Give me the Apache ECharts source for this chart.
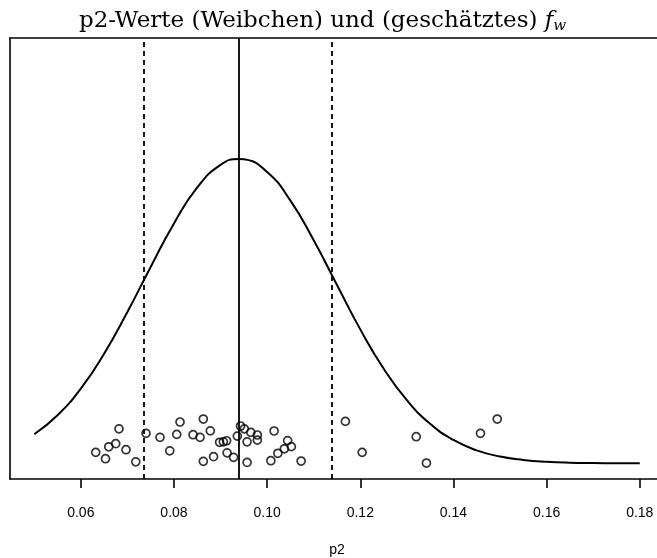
<!DOCTYPE html>
<html>
<head>
<meta charset="utf-8">
<script src="https://cdn.jsdelivr.net/npm/echarts@6/dist/echarts.min.js"></script>
<style>
  html, body { margin: 0; padding: 0; background: #ffffff; }
  #chart { width: 657px; height: 558px; }
</style>
</head>
<body>
<div id="chart"></div>
<script>
// p2 values of the females (x) and their jitter height (y)
var p2Values = [
  0.0632, 0.0653, 0.0660, 0.0675, 0.0682, 0.0697, 0.0718, 0.0740, 0.0770, 0.0791,
  0.0806, 0.0813, 0.0841, 0.0856, 0.0863, 0.0863, 0.0878, 0.0885, 0.0898, 0.0906,
  0.0913, 0.0914, 0.0928, 0.0936, 0.0943, 0.0951, 0.0957, 0.0957, 0.0965, 0.0979,
  0.0979, 0.1008, 0.1015, 0.1023, 0.1037, 0.1044, 0.1052, 0.1073, 0.1168, 0.1204,
  0.1320, 0.1342, 0.1458, 0.1494
];
var jitter = [
  0.71, 0.30, 1.07, 1.27, 2.23, 0.88, 0.10, 1.94, 1.68, 0.81,
  1.87, 2.67, 1.85, 1.68, 2.86, 0.13, 2.10, 0.43, 1.36, 1.39,
  1.46, 0.68, 0.39, 1.76, 2.41, 2.23, 1.39, 0.06, 2.00, 1.83,
  1.50, 0.17, 2.09, 0.65, 0.94, 1.47, 1.08, 0.15, 2.71, 0.71,
  1.72, 0.02, 1.94, 2.86
];

// estimated density f_w
var curveX = [0.050, 0.055, 0.060, 0.065, 0.070, 0.075, 0.080, 0.085, 0.090, 0.094,
  0.095, 0.100, 0.105, 0.110, 0.115, 0.120, 0.125, 0.130, 0.135, 0.140,
  0.145, 0.150, 0.155, 0.160, 0.165, 0.170, 0.175, 0.180];
var curveY = [1.88, 3.11, 4.83, 7.08, 9.77, 12.68, 15.49, 17.81, 19.27, 19.65,
  19.63, 18.81, 16.96, 14.40, 11.51, 8.65, 6.12, 4.08, 2.55, 1.51,
  0.84, 0.44, 0.22, 0.10, 0.04, 0.02, 0.01, 0.00];

var meanLine = 0.0940;
var dashLines = [0.0735, 0.1139];
var tickValues = [0.06, 0.08, 0.10, 0.12, 0.14, 0.16, 0.18];

var points = p2Values.map(function (v, i) { return [v, jitter[i]]; });
var curve = curveX.map(function (v, i) { return [v, curveY[i]]; });

var black = '#000';

var myChart = echarts.init(document.getElementById('chart'));
myChart.setOption({
  animation: false,
  backgroundColor: '#ffffff',
  title: {
    text: '{a|p2-Werte (Weibchen) und (geschätztes) }{f|f}{w|w}',
    left: 74,
    top: 3,
    textStyle: {
      rich: {
        a: { fontFamily: 'DejaVu Serif', fontWeight: 'normal', fontSize: 23, color: black },
        f: { fontFamily: 'DejaVu Serif', fontWeight: 'normal', fontStyle: 'italic', fontSize: 23, color: black },
        w: { fontFamily: 'DejaVu Serif', fontWeight: 'normal', fontStyle: 'italic', fontSize: 15, color: black, padding: [11, 0, 0, 0] }
      }
    }
  },
  grid: {
    left: 10,
    top: 38,
    width: 654,
    bottom: 79,
    outerBoundsMode: 'none',
    containLabel: false,
    show: false
  },
  xAxis: [
    {
      type: 'value',
      min: 0.0448,
      max: 0.1852,
      name: 'p2',
      nameLocation: 'middle',
      nameGap: 64,
      nameTextStyle: { fontFamily: 'Liberation Sans', fontSize: 14, color: black },
      splitLine: { show: false },
      axisLine: { show: true, onZero: false, lineStyle: { color: black, width: 1.6 } },
      axisTick: {
        show: true,
        length: 9,
        customValues: tickValues,
        lineStyle: { color: black, width: 1.6 }
      },
      axisLabel: {
        customValues: tickValues,
        margin: 27,
        fontFamily: 'Liberation Sans',
        fontSize: 14,
        color: black,
        formatter: function (v) { return v.toFixed(2); }
      }
    },
    {
      // top edge of the box
      type: 'value',
      position: 'top',
      min: 0.0448,
      max: 0.1852,
      splitLine: { show: false },
      axisLine: { show: true, onZero: false, lineStyle: { color: black, width: 1.6 } },
      axisTick: { show: false },
      axisLabel: { show: false }
    }
  ],
  yAxis: {
    type: 'value',
    min: -1.01,
    max: 27.46,
    splitLine: { show: false },
    axisLine: { show: true, onZero: false, lineStyle: { color: black, width: 1.6 } },
    axisTick: { show: false },
    axisLabel: { show: false }
  },
  series: [
    {
      type: 'line',
      data: curve,
      smooth: true,
      showSymbol: false,
      lineStyle: { color: black, width: 2 },
      markLine: {
        silent: true,
        symbol: 'none',
        precision: 4,
        label: { show: false },
        data: [
          { xAxis: meanLine, lineStyle: { type: 'solid', color: black, width: 1.8 } },
          { xAxis: dashLines[0], lineStyle: { type: [5, 4], color: black, width: 1.8 } },
          { xAxis: dashLines[1], lineStyle: { type: [5, 4], color: black, width: 1.8 } }
        ]
      }
    },
    {
      type: 'scatter',
      data: points,
      symbol: 'circle',
      symbolSize: 8,
      itemStyle: { color: 'rgba(0,0,0,0)', borderColor: black, borderWidth: 1.7 }
    }
  ]
});
</script>
</body>
</html>
